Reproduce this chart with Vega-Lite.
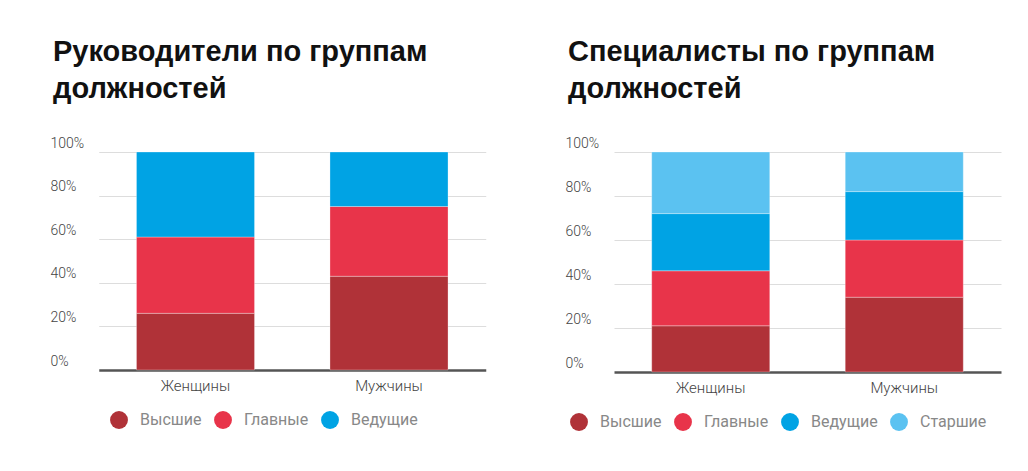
{
  "$schema": "https://vega.github.io/schema/vega-lite/v6.json",
  "background": "#ffffff",
  "padding": {"left": 50, "top": 38, "right": 20, "bottom": 10},
  "spacing": 80,
  "config": {
    "view": {"stroke": null},
    "title": {"anchor": "start", "font": "Liberation Sans", "fontSize": 29, "fontWeight": "bold", "color": "#111111", "lineHeight": 37, "offset": 32, "dx": 3},
    "axis": {"labelFont": "Roboto", "labelFontWeight": 300, "labelColor": "#444444", "title": null, "ticks": false, "tickSize": 0, "domain": false},
    "legend": {"labelFont": "Roboto", "labelFontSize": 16, "labelColor": "#888888", "symbolType": "circle", "symbolSize": 320, "symbolStrokeWidth": 0, "labelOffset": 12, "columnPadding": 12, "orient": "none", "direction": "horizontal", "title": null, "padding": 0}
  },
  "datasets": {
    "ruk": [
      {"gender": "Женщины", "group": "Высшие", "share": 26},
      {"gender": "Женщины", "group": "Главные", "share": 35},
      {"gender": "Женщины", "group": "Ведущие", "share": 39},
      {"gender": "Мужчины", "group": "Высшие", "share": 43},
      {"gender": "Мужчины", "group": "Главные", "share": 32},
      {"gender": "Мужчины", "group": "Ведущие", "share": 25}
    ],
    "spec": [
      {"gender": "Женщины", "group": "Высшие", "share": 21},
      {"gender": "Женщины", "group": "Главные", "share": 25},
      {"gender": "Женщины", "group": "Ведущие", "share": 26},
      {"gender": "Женщины", "group": "Старшие", "share": 28},
      {"gender": "Мужчины", "group": "Высшие", "share": 34},
      {"gender": "Мужчины", "group": "Главные", "share": 26},
      {"gender": "Мужчины", "group": "Ведущие", "share": 22},
      {"gender": "Мужчины", "group": "Старшие", "share": 18}
    ]
  },
  "resolve": {"scale": {"color": "independent"}, "legend": {"color": "independent"}},
  "hconcat": [
    {
      "title": {"text": ["Руководители по группам", "должностей"]},
      "width": 435,
      "height": 218,
      "data": {"name": "ruk"},
      "transform": [{"calculate": "indexof(['Высшие', 'Главные', 'Ведущие', 'Старшие'], datum.group)", "as": "stackOrder"}],
      "mark": {"type": "bar", "stroke": "#ffffff", "strokeWidth": 0.6, "strokeOpacity": 0.5},
      "encoding": {
        "x": {"field": "gender", "type": "nominal", "sort": ["Женщины", "Мужчины"],
              "scale": {"range": [48.75, 435.75], "paddingInner": 0.39, "paddingOuter": 0.195},
              "axis": {"labelAngle": 0, "labelFontSize": 15, "labelPadding": 8}},
        "y": {"field": "share", "type": "quantitative", "stack": "zero",
              "scale": {"domain": [0, 100]},
              "axis": {"values": [0, 20, 40, 60, 80, 100], "labelExpr": "datum.value + '%'", "labelAlign": "left", "labelBaseline": "bottom", "labelPadding": 0, "labelOffset": -2, "labelFontSize": 14,
                       "gridColor": {"condition": {"test": "datum.value === 0", "value": "#555555"}, "value": "#dddddd"},
                       "gridWidth": {"condition": {"test": "datum.value === 0", "value": 2.5}, "value": 1}}},
        "order": {"field": "stackOrder", "type": "quantitative", "sort": "ascending"},
        "color": {"field": "group", "type": "nominal", "sort": ["Высшие", "Главные", "Ведущие"],
                  "scale": {"domain": ["Высшие", "Главные", "Ведущие"], "range": ["#b03238", "#e8344a", "#00a3e4"]},
                  "legend": {"legendX": 60, "legendY": 259}}
      }
    },
    {
      "title": {"text": ["Специалисты по группам", "должностей"]},
      "width": 436,
      "height": 220,
      "data": {"name": "spec"},
      "transform": [{"calculate": "indexof(['Высшие', 'Главные', 'Ведущие', 'Старшие'], datum.group)", "as": "stackOrder"}],
      "mark": {"type": "bar", "stroke": "#ffffff", "strokeWidth": 0.6, "strokeOpacity": 0.5},
      "encoding": {
        "x": {"field": "gender", "type": "nominal", "sort": ["Женщины", "Мужчины"],
              "scale": {"range": [49, 436], "paddingInner": 0.39, "paddingOuter": 0.195},
              "axis": {"labelAngle": 0, "labelFontSize": 15, "labelPadding": 8}},
        "y": {"field": "share", "type": "quantitative", "stack": "zero",
              "scale": {"domain": [0, 100]},
              "axis": {"values": [0, 20, 40, 60, 80, 100], "labelExpr": "datum.value + '%'", "labelAlign": "left", "labelBaseline": "bottom", "labelPadding": 0, "labelOffset": -2, "labelFontSize": 14,
                       "gridColor": {"condition": {"test": "datum.value === 0", "value": "#555555"}, "value": "#dddddd"},
                       "gridWidth": {"condition": {"test": "datum.value === 0", "value": 2.5}, "value": 1}}},
        "order": {"field": "stackOrder", "type": "quantitative", "sort": "ascending"},
        "color": {"field": "group", "type": "nominal", "sort": ["Высшие", "Главные", "Ведущие", "Старшие"],
                  "scale": {"domain": ["Высшие", "Главные", "Ведущие", "Старшие"], "range": ["#b03238", "#e8344a", "#00a3e4", "#5bc2f1"]},
                  "legend": {"legendX": 5, "legendY": 261}}
      }
    }
  ]
}
